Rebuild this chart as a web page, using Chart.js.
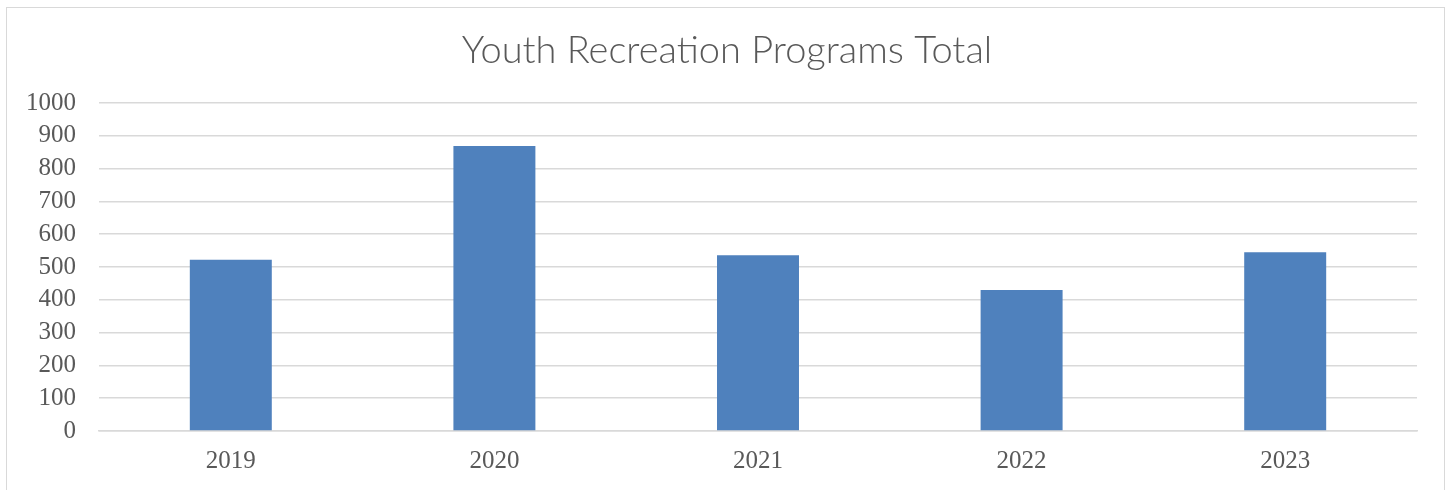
<!DOCTYPE html>
<html>
<head>
<meta charset="utf-8">
<script src="https://cdn.jsdelivr.net/npm/chart.js@4/dist/chart.umd.min.js"></script>
<style>
  html, body { margin: 0; padding: 0; background: #ffffff; overflow: hidden; }
  #wrap { position: relative; width: 1452px; height: 490px; }
  #frame { position: absolute; left: 6px; top: 7px; width: 1439px; height: 600px; border: 1.5px solid #d9d9d9; box-sizing: border-box; }
  canvas { position: absolute; left: 0; top: 0; }
</style>
</head>
<body>
<div id="wrap">
  <div id="frame"></div>
  <canvas id="c" width="1452" height="490"></canvas>
</div>
<script>
const titleText = "Youth Recreation Programs Total";
const categories = ["2019", "2020", "2021", "2022", "2023"];
const values = [522, 869, 536, 430, 545];
const yMin = 0;
const yMax = 1000;
const yStep = 100;

const centeredTitle = {
  id: 'centeredTitle',
  afterDraw(chart) {
    const c = chart.ctx;
    c.save();
    c.font = '300 38px Lato';
    c.fillStyle = '#595959';
    c.textAlign = 'center';
    c.textBaseline = 'middle';
    c.fillText(titleText, chart.width / 2 + 1, 50.8);
    c.restore();
  }
};

const ctx = document.getElementById('c').getContext('2d');
new Chart(ctx, {
  type: 'bar',
  data: {
    labels: categories,
    datasets: [{
      data: values,
      backgroundColor: '#4f81bd',
      borderWidth: 0,
      categoryPercentage: 1.0,
      barPercentage: 0.311
    }]
  },
  plugins: [centeredTitle],
  options: {
    responsive: false,
    animation: false,
    devicePixelRatio: 1,
    layout: { padding: { left: 7, right: 35, top: 103, bottom: 0 } },
    plugins: {
      legend: { display: false },
      tooltip: { enabled: false },
      title: { display: false }
    },
    scales: {
      x: {
        grid: { display: false, drawTicks: false },
        border: { display: true, color: '#d9d9d9', width: 1.5 },
        ticks: { color: '#595959', font: { family: 'Liberation Serif', size: 25 }, padding: 15 },
        afterFit: (s) => { s.height = 59; }
      },
      y: {
        min: yMin, max: yMax,
        grid: { color: '#d9d9d9', lineWidth: 1.5, drawTicks: false },
        border: { display: false },
        ticks: {
          stepSize: yStep, autoSkip: false, color: '#595959',
          font: { family: 'Liberation Serif', size: 25 }, padding: 23,
          callback: (v) => String(v)
        },
        afterFit: (s) => { s.width = 92; }
      }
    }
  }
});
</script>
</body>
</html>
